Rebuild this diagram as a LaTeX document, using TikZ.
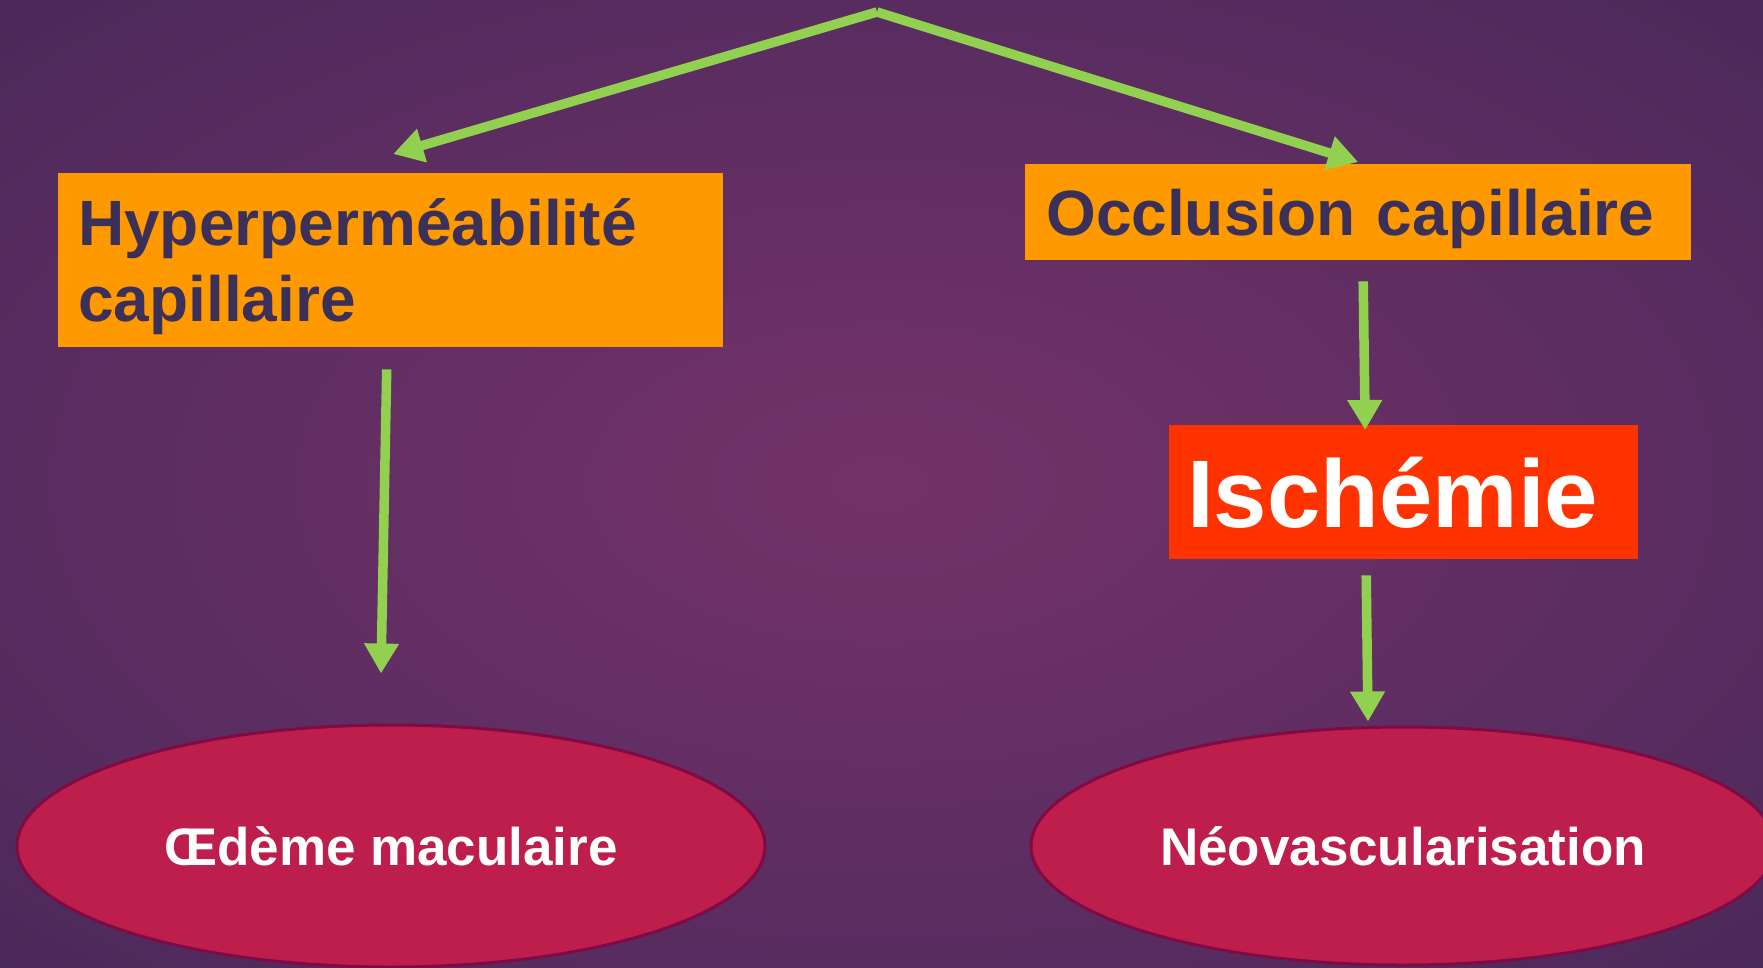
\documentclass[tikz,border=0pt]{standalone}
\usepackage{fontspec}
\setmainfont{Liberation Sans}
\definecolor{bgcentre}{RGB}{116, 50, 104}
\definecolor{bgmid}{RGB}{88, 44, 96}
\definecolor{bgedge}{RGB}{56, 36, 80}
\definecolor{boxorange}{RGB}{255, 153, 0}
\definecolor{ischred}{RGB}{255, 51, 0}
\definecolor{textnavy}{RGB}{58, 48, 90}
\definecolor{ovalfill}{RGB}{190, 30, 75}
\definecolor{ovaledge}{RGB}{128, 10, 68}
\definecolor{arrowgreen}{RGB}{146, 208, 80}
\usetikzlibrary{shapes, arrows.meta, positioning, calc}
\pgfdeclareradialshading{slideglow}{\pgfpoint{0bp}{0bp}}{color(0bp)=(bgcentre); color(25bp)=(bgmid); color(50bp)=(bgedge); color(71bp)=(bgedge)}

\begin{document}
\begin{tikzpicture}[x=1pt, y=-1pt,
  causebox/.style={fill=boxorange, text=textnavy, anchor=north west, align=left,
    font=\fontsize{64}{76}\selectfont\bfseries, inner ysep=0pt, text depth=0pt},
  outcome/.style={ellipse, fill=ovalfill, draw=ovaledge, line width=3pt, text=white,
    font=\fontsize{53}{60}\selectfont\bfseries, inner sep=0pt, text depth=0pt},
  flowarrow/.style={draw=arrowgreen, line width=9.5pt, -{Triangle[length=30pt, width=33pt]}}]

  \clip (0,0) rectangle (1763,967);
  \shade[shading=slideglow] (0,0) rectangle (1763,967);

  \coordinate (apex) at (877,12);

  \node[causebox, minimum width=665pt, minimum height=174pt, inner xsep=20pt, text width=625pt,
    text depth=76pt] (hyper) at (58,173) {Hyperperméabilité\\capillaire};
  \node[causebox, minimum width=666pt, minimum height=96pt, inner xsep=21pt, text width=624pt]
    (occl) at (1025,164) {Occlusion capillaire};
  \node[causebox, fill=ischred, text=white, font=\fontsize{96}{110}\selectfont\bfseries,
    minimum width=469pt, minimum height=134pt, inner xsep=18pt, text width=433pt]
    (isch) at (1169,425) {Ischémie};

  \node[outcome, minimum width=748pt, minimum height=242pt] (oedeme) at (391,846) {Œdème maculaire};
  \node[outcome, minimum width=744pt, minimum height=238pt] (neo) at (1403,846) {Néovascularisation};

  \draw[flowarrow] (apex) -- ([shift={(2.5pt,19pt)}]hyper.north);
  \draw[flowarrow] (apex) -- ([yshift=2pt]occl.north);
  \draw[flowarrow] ([shift={(-4pt,-22pt)}]hyper.south) -- ([shift={(-10pt,50pt)}]oedeme.north);
  \draw[flowarrow] ([shift={(5pt,-21pt)}]occl.south) -- ([shift={(-38.5pt,-5pt)}]isch.north);
  \draw[flowarrow] ([shift={(-37.5pt,-16pt)}]isch.south) -- ([shift={(-35pt,4pt)}]neo.north);
\end{tikzpicture}
\end{document}
